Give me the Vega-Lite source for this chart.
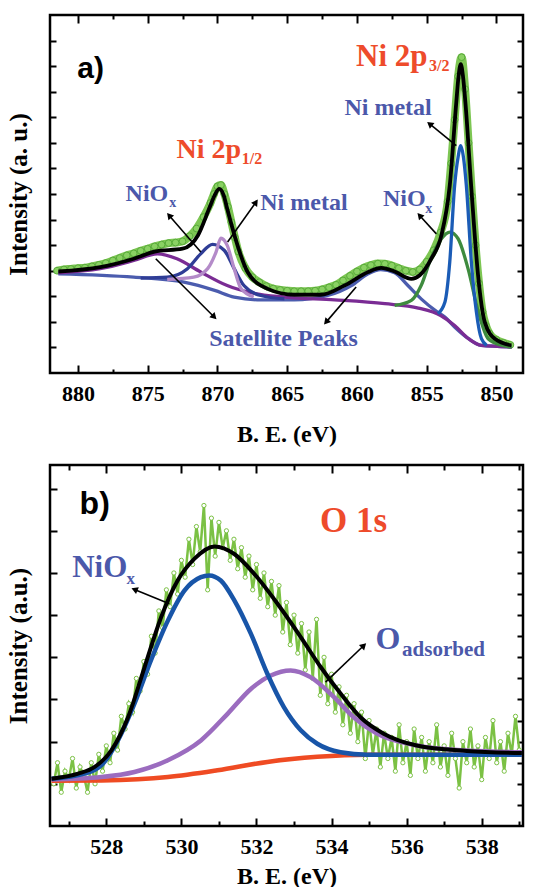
{
 "$schema": "https://vega.github.io/schema/vega-lite/v6.json",
 "padding": {"left": 4, "top": 12, "right": 0, "bottom": 0},
 "spacing": 14,
 "resolve": {"scale": {"color": "independent"}},
 "config": {
  "view": {"stroke": "black", "strokeWidth": 2.5},
  "axis": {"domain": false, "grid": false, "labelFont": "Liberation Serif", "labelFontWeight": "bold", "labelFontSize": 22, "labelColor": "black", "titleFont": "Liberation Serif", "titleFontWeight": "bold", "titleFontSize": 24, "titleColor": "black", "tickColor": "black", "tickWidth": 2}
 },
 "datasets": {
  "dataA": [
   {"E":881.5,"I":4.0},{"E":881.0,"I":4.05},{"E":880.5,"I":4.07},{"E":880.0,"I":4.1},{"E":879.5,"I":4.12},{"E":879.0,"I":4.17},{"E":878.5,"I":4.23},{"E":878.0,"I":4.3},{"E":877.5,"I":4.4},{"E":877.0,"I":4.5},{"E":876.5,"I":4.6},{"E":876.0,"I":4.68},{"E":875.5,"I":4.78},{"E":875.0,"I":4.86},{"E":874.5,"I":4.95},{"E":874.0,"I":5.02},{"E":873.5,"I":5.08},{"E":873.0,"I":5.1},{"E":872.5,"I":5.15},{"E":872.0,"I":5.35},{"E":871.5,"I":5.65},{"E":871.0,"I":6.1},{"E":870.5,"I":6.65},{"E":870.25,"I":7.0},{"E":870.0,"I":7.3},{"E":869.75,"I":7.35},{"E":869.5,"I":7.0},{"E":869.25,"I":6.5},{"E":869.0,"I":5.9},{"E":868.75,"I":5.3},{"E":868.5,"I":4.75},{"E":868.0,"I":4.1},{"E":867.5,"I":3.75},{"E":867.0,"I":3.55},{"E":866.5,"I":3.4},{"E":866.0,"I":3.3},{"E":865.5,"I":3.25},{"E":865.0,"I":3.22},{"E":864.5,"I":3.2},{"E":864.0,"I":3.2},{"E":863.5,"I":3.2},{"E":863.0,"I":3.22},{"E":862.5,"I":3.27},{"E":862.0,"I":3.35},{"E":861.5,"I":3.45},{"E":861.0,"I":3.62},{"E":860.5,"I":3.8},{"E":860.0,"I":3.97},{"E":859.5,"I":4.12},{"E":859.0,"I":4.22},{"E":858.5,"I":4.28},{"E":858.0,"I":4.27},{"E":857.5,"I":4.2},{"E":857.0,"I":4.1},{"E":856.5,"I":4.0},{"E":856.0,"I":3.95},{"E":855.5,"I":4.05},{"E":855.0,"I":4.35},{"E":854.5,"I":4.8},{"E":854.0,"I":5.5},{"E":853.5,"I":6.7},{"E":853.25,"I":8.2},{"E":853.0,"I":9.9},{"E":852.75,"I":11.6},{"E":852.5,"I":12.35},{"E":852.25,"I":11.1},{"E":852.0,"I":9.0},{"E":851.75,"I":6.9},{"E":851.5,"I":5.0},{"E":851.25,"I":3.5},{"E":851.0,"I":2.4},{"E":850.75,"I":1.85},{"E":850.5,"I":1.55},{"E":850.0,"I":1.3},{"E":849.5,"I":1.18},{"E":849.0,"I":1.1}
  ],
  "curvesA": [
   {"s":"sat32","E":881.4,"I":3.88},{"s":"sat32","E":876.0,"I":3.75},{"s":"sat32","E":872.4,"I":3.55},{"s":"sat32","E":870.2,"I":3.23},{"s":"sat32","E":868.8,"I":2.97},{"s":"sat32","E":866.9,"I":2.86},{"s":"sat32","E":864.5,"I":2.86},{"s":"sat32","E":862.1,"I":3.03},{"s":"sat32","E":860.4,"I":3.42},{"s":"sat32","E":859.2,"I":3.88},{"s":"sat32","E":858.3,"I":4.04},{"s":"sat32","E":857.3,"I":3.92},{"s":"sat32","E":856.35,"I":3.42},{"s":"sat32","E":855.4,"I":2.9},{"s":"sat32","E":854.4,"I":2.45},{"s":"sat32","E":853.7,"I":2.19},{"s":"sat32","E":853.0,"I":1.8},{"s":"sat32","E":852.0,"I":1.34},{"s":"sat32","E":851.1,"I":1.08},{"s":"sat32","E":848.9,"I":1.02},
   {"s":"sat12","E":881.4,"I":3.92},{"s":"sat12","E":878.4,"I":4.08},{"s":"sat12","E":876.0,"I":4.4},{"s":"sat12","E":874.3,"I":4.66},{"s":"sat12","E":872.9,"I":4.47},{"s":"sat12","E":871.2,"I":3.95},{"s":"sat12","E":869.3,"I":3.42},{"s":"sat12","E":867.6,"I":3.14},{"s":"sat12","E":865.2,"I":2.97},{"s":"sat12","E":861.6,"I":2.86},{"s":"sat12","E":858.0,"I":2.71},{"s":"sat12","E":855.6,"I":2.54},{"s":"sat12","E":854.0,"I":2.25},{"s":"sat12","E":853.0,"I":1.86},{"s":"sat12","E":852.0,"I":1.34},{"s":"sat12","E":851.1,"I":1.08},{"s":"sat12","E":848.9,"I":1.02},
   {"s":"nio12","E":875.5,"I":3.71},{"s":"nio12","E":873.6,"I":3.75},{"s":"nio12","E":872.15,"I":4.08},{"s":"nio12","E":871.2,"I":4.66},{"s":"nio12","E":870.35,"I":5.03},{"s":"nio12","E":869.5,"I":4.79},{"s":"nio12","E":868.8,"I":4.08},{"s":"nio12","E":868.1,"I":3.42},{"s":"nio12","E":866.9,"I":3.03},{"s":"nio12","E":865.2,"I":2.9},
   {"s":"ni12","E":873.6,"I":3.66},{"s":"ni12","E":871.7,"I":3.75},{"s":"ni12","E":870.7,"I":4.08},{"s":"ni12","E":870.1,"I":4.73},{"s":"ni12","E":869.75,"I":5.27},{"s":"ni12","E":869.3,"I":4.99},{"s":"ni12","E":868.8,"I":4.08},{"s":"ni12","E":868.3,"I":3.29},{"s":"ni12","E":867.4,"I":2.97},
   {"s":"nio32","E":857.3,"I":2.64},{"s":"nio32","E":856.1,"I":2.84},{"s":"nio32","E":855.4,"I":3.42},{"s":"nio32","E":854.7,"I":4.47},{"s":"nio32","E":853.95,"I":5.25},{"s":"nio32","E":853.35,"I":5.51},{"s":"nio32","E":852.75,"I":5.25},{"s":"nio32","E":852.04,"I":4.08},{"s":"nio32","E":851.3,"I":2.38},{"s":"nio32","E":850.6,"I":1.34},{"s":"nio32","E":849.6,"I":1.08},{"s":"nio32","E":848.9,"I":1.02},
   {"s":"ni32","E":854.2,"I":2.32},{"s":"ni32","E":853.7,"I":2.77},{"s":"ni32","E":853.35,"I":4.34},{"s":"ni32","E":853.0,"I":7.33},{"s":"ni32","E":852.75,"I":8.45},{"s":"ni32","E":852.56,"I":8.89},{"s":"ni32","E":852.37,"I":8.45},{"s":"ni32","E":852.16,"I":7.33},{"s":"ni32","E":851.8,"I":4.34},{"s":"ni32","E":851.44,"I":2.38},{"s":"ni32","E":851.08,"I":1.34},{"s":"ni32","E":850.7,"I":1.08},
   {"s":"env","E":881.4,"I":3.97},{"s":"env","E":878.4,"I":4.14},{"s":"env","E":876.0,"I":4.47},{"s":"env","E":874.5,"I":4.75},{"s":"env","E":872.5,"I":4.86},{"s":"env","E":871.4,"I":5.38},{"s":"env","E":870.6,"I":6.42},{"s":"env","E":870.2,"I":6.95},{"s":"env","E":869.87,"I":7.2},{"s":"env","E":869.55,"I":6.95},{"s":"env","E":869.3,"I":6.42},{"s":"env","E":868.56,"I":4.99},{"s":"env","E":867.84,"I":3.95},{"s":"env","E":866.4,"I":3.29},{"s":"env","E":864.5,"I":3.06},{"s":"env","E":862.6,"I":3.06},{"s":"env","E":860.9,"I":3.42},{"s":"env","E":859.2,"I":3.95},{"s":"env","E":858.26,"I":4.11},{"s":"env","E":857.3,"I":3.97},{"s":"env","E":856.1,"I":3.68},{"s":"env","E":855.5,"I":3.82},{"s":"env","E":854.67,"I":4.47},{"s":"env","E":853.95,"I":5.38},{"s":"env","E":853.35,"I":7.33},{"s":"env","E":852.88,"I":10.59},{"s":"env","E":852.72,"I":11.6},{"s":"env","E":852.56,"I":12.08},{"s":"env","E":852.4,"I":11.6},{"s":"env","E":852.23,"I":10.59},{"s":"env","E":851.8,"I":7.2},{"s":"env","E":851.32,"I":3.82},{"s":"env","E":850.84,"I":1.99},{"s":"env","E":850.12,"I":1.34},{"s":"env","E":848.93,"I":1.08}
  ],
  "arrowsA": [
   {"id":1,"E":871.19,"I":4.73,"E2":873.46,"I2":6.16},
   {"id":2,"E":869.27,"I":5.12,"E2":867.24,"I2":6.68},
   {"id":3,"E":874.42,"I":4.47,"E2":870.23,"I2":2.19},
   {"id":4,"E":860.06,"I":3.36,"E2":862.21,"I2":1.99},
   {"id":5,"E":852.88,"I":8.89,"E2":854.79,"I2":9.74},
   {"id":6,"E":854.31,"I":5.44,"E2":855.51,"I2":6.16}
  ],
  "textA": [
   {"role":"peakR","t":"Ni 2p","E":860.06,"I":11.99},
   {"role":"peakL","t":"Ni 2p","E":872.94,"I":8.4},
   {"role":"peaksub","t":"3/2","E":854.84,"I":11.8},
   {"role":"peaksub","t":"1/2","E":868.25,"I":8.16},
   {"role":"comp","t":"Ni metal","E":860.9,"I":10.07},
   {"role":"comp","t":"NiO","E":858.14,"I":6.52},
   {"role":"comp","t":"Ni metal","E":866.93,"I":6.39},
   {"role":"comp","t":"NiO","E":876.58,"I":6.73},
   {"role":"comp","t":"Satellite Peaks","E":870.59,"I":1.05},
   {"role":"compsub","t":"x","E":855.1,"I":6.24},
   {"role":"compsub","t":"x","E":873.46,"I":6.48},
   {"role":"panel","t":"a)","E":879.09,"I":11.89}
  ],
  "dataB": [
   {"E":526.6,"I":1.0},{"E":526.7,"I":1.5},{"E":526.8,"I":0.8},{"E":526.9,"I":1.3},{"E":527.0,"I":1.1},{"E":527.1,"I":1.6},{"E":527.2,"I":0.9},{"E":527.3,"I":1.4},{"E":527.4,"I":1.2},{"E":527.5,"I":0.8},{"E":527.6,"I":1.5},{"E":527.7,"I":1.0},{"E":527.8,"I":1.7},{"E":527.9,"I":1.3},{"E":528.0,"I":1.9},{"E":528.1,"I":1.5},{"E":528.2,"I":2.2},{"E":528.3,"I":1.8},{"E":528.4,"I":2.6},{"E":528.5,"I":2.3},{"E":528.6,"I":2.9},{"E":528.7,"I":2.7},{"E":528.8,"I":3.5},{"E":528.9,"I":3.2},{"E":529.0,"I":3.9},{"E":529.1,"I":3.6},{"E":529.2,"I":4.5},{"E":529.3,"I":4.1},{"E":529.4,"I":5.1},{"E":529.5,"I":4.7},{"E":529.6,"I":5.6},{"E":529.7,"I":5.2},{"E":529.8,"I":6.0},{"E":529.9,"I":5.5},{"E":530.0,"I":6.3},{"E":530.1,"I":5.9},{"E":530.2,"I":6.8},{"E":530.3,"I":6.2},{"E":530.4,"I":7.1},{"E":530.5,"I":6.5},{"E":530.6,"I":7.6},{"E":530.7,"I":5.6},{"E":530.8,"I":7.3},{"E":530.9,"I":6.4},{"E":531.0,"I":7.2},{"E":531.1,"I":6.6},{"E":531.2,"I":7.0},{"E":531.3,"I":6.3},{"E":531.4,"I":6.8},{"E":531.5,"I":6.1},{"E":531.6,"I":6.6},{"E":531.7,"I":5.9},{"E":531.8,"I":6.4},{"E":531.9,"I":5.6},{"E":532.0,"I":6.2},{"E":532.1,"I":5.4},{"E":532.2,"I":6.0},{"E":532.3,"I":5.2},{"E":532.4,"I":5.8},{"E":532.5,"I":5.0},{"E":532.6,"I":5.7},{"E":532.7,"I":4.6},{"E":532.8,"I":5.3},{"E":532.9,"I":4.3},{"E":533.0,"I":5.0},{"E":533.1,"I":4.1},{"E":533.2,"I":4.8},{"E":533.3,"I":3.7},{"E":533.4,"I":4.6},{"E":533.5,"I":3.5},{"E":533.6,"I":4.9},{"E":533.7,"I":3.1},{"E":533.8,"I":4.0},{"E":533.9,"I":2.9},{"E":534.0,"I":3.6},{"E":534.1,"I":2.7},{"E":534.2,"I":3.3},{"E":534.3,"I":2.4},{"E":534.4,"I":3.1},{"E":534.5,"I":2.2},{"E":534.6,"I":2.9},{"E":534.7,"I":2.0},{"E":534.8,"I":2.7},{"E":534.9,"I":1.6},{"E":535.0,"I":2.5},{"E":535.1,"I":1.7},{"E":535.2,"I":2.3},{"E":535.3,"I":1.4},{"E":535.4,"I":2.2},{"E":535.5,"I":1.6},{"E":535.6,"I":2.1},{"E":535.7,"I":1.3},{"E":535.8,"I":2.4},{"E":535.9,"I":1.5},{"E":536.0,"I":2.0},{"E":536.1,"I":1.2},{"E":536.2,"I":2.3},{"E":536.3,"I":1.6},{"E":536.4,"I":2.1},{"E":536.5,"I":1.3},{"E":536.6,"I":2.0},{"E":536.7,"I":1.5},{"E":536.8,"I":2.4},{"E":536.9,"I":1.4},{"E":537.0,"I":1.9},{"E":537.1,"I":1.2},{"E":537.2,"I":2.2},{"E":537.3,"I":1.6},{"E":537.4,"I":0.9},{"E":537.5,"I":2.0},{"E":537.6,"I":1.5},{"E":537.7,"I":2.3},{"E":537.8,"I":1.4},{"E":537.9,"I":1.9},{"E":538.0,"I":1.1},{"E":538.1,"I":2.1},{"E":538.2,"I":1.6},{"E":538.3,"I":2.5},{"E":538.4,"I":1.5},{"E":538.5,"I":2.0},{"E":538.6,"I":1.3},{"E":538.7,"I":2.2},{"E":538.8,"I":1.7},{"E":538.9,"I":2.6},{"E":539.0,"I":1.8}
  ],
  "curvesB": [
   {"s":"bg","E":526.54,"I":1.07},{"s":"bg","E":527.87,"I":1.08},{"s":"bg","E":529.64,"I":1.16},{"s":"bg","E":530.96,"I":1.32},{"s":"bg","E":532.29,"I":1.52},{"s":"bg","E":533.62,"I":1.64},{"s":"bg","E":534.95,"I":1.69},{"s":"bg","E":539.07,"I":1.69},
   {"s":"oads","E":526.54,"I":1.1},{"s":"oads","E":527.87,"I":1.16},{"s":"oads","E":528.75,"I":1.28},{"s":"oads","E":529.64,"I":1.56},{"s":"oads","E":530.52,"I":2.03},{"s":"oads","E":531.23,"I":2.66},{"s":"oads","E":531.85,"I":3.25},{"s":"oads","E":532.38,"I":3.57},{"s":"oads","E":532.91,"I":3.69},{"s":"oads","E":533.44,"I":3.53},{"s":"oads","E":534.06,"I":3.06},{"s":"oads","E":534.59,"I":2.58},{"s":"oads","E":535.21,"I":2.19},{"s":"oads","E":536.27,"I":1.91},{"s":"oads","E":537.6,"I":1.79},{"s":"oads","E":539.07,"I":1.75},
   {"s":"niox","E":526.54,"I":1.12},{"s":"niox","E":527.42,"I":1.24},{"s":"niox","E":527.87,"I":1.44},{"s":"niox","E":528.31,"I":2.03},{"s":"niox","E":528.75,"I":2.9},{"s":"niox","E":529.19,"I":3.93},{"s":"niox","E":529.64,"I":4.87},{"s":"niox","E":530.08,"I":5.58},{"s":"niox","E":530.52,"I":5.9},{"s":"niox","E":530.74,"I":5.94},{"s":"niox","E":531.05,"I":5.82},{"s":"niox","E":531.41,"I":5.35},{"s":"niox","E":531.85,"I":4.56},{"s":"niox","E":532.29,"I":3.61},{"s":"niox","E":532.73,"I":2.82},{"s":"niox","E":533.18,"I":2.27},{"s":"niox","E":533.62,"I":1.95},{"s":"niox","E":534.24,"I":1.75},{"s":"niox","E":534.95,"I":1.69},{"s":"niox","E":539.07,"I":1.69},
   {"s":"env","E":526.54,"I":1.12},{"s":"env","E":527.25,"I":1.24},{"s":"env","E":527.69,"I":1.4},{"s":"env","E":528.13,"I":1.79},{"s":"env","E":528.58,"I":2.58},{"s":"env","E":529.02,"I":3.77},{"s":"env","E":529.46,"I":4.95},{"s":"env","E":529.9,"I":5.82},{"s":"env","E":530.35,"I":6.34},{"s":"env","E":530.88,"I":6.63},{"s":"env","E":531.41,"I":6.45},{"s":"env","E":531.94,"I":5.98},{"s":"env","E":532.56,"I":5.27},{"s":"env","E":533.18,"I":4.48},{"s":"env","E":533.71,"I":3.77},{"s":"env","E":534.24,"I":3.14},{"s":"env","E":534.77,"I":2.58},{"s":"env","E":535.39,"I":2.19},{"s":"env","E":536.27,"I":1.91},{"s":"env","E":537.6,"I":1.78},{"s":"env","E":539.07,"I":1.73}
  ],
  "arrowsB": [
   {"id":7,"E":529.68,"I":5.27,"E2":528.75,"I2":5.61},
   {"id":8,"E":533.84,"I":3.41,"E2":534.86,"I2":4.28}
  ],
  "textB": [
   {"role":"peak","t":"O 1s","E":533.69,"I":6.97},
   {"role":"nio","t":"NiO","E":527.09,"I":5.9},
   {"role":"niosub","t":"x","E":528.54,"I":5.73},
   {"role":"o","t":"O","E":535.17,"I":4.2},
   {"role":"osub","t":"adsorbed","E":535.88,"I":4.04},
   {"role":"panel","t":"b)","E":527.69,"I":7.64}
  ]
 },
 "vconcat": [
  {
   "width": 473, "height": 358,
   "resolve": {"axis": {"x": "independent", "y": "independent"}},
   "encoding": {
    "x": {"field": "E", "type": "quantitative", "scale": {"domain": [848.1, 882], "reverse": true, "nice": false, "zero": false}, "axis": null},
    "y": {"field": "I", "type": "quantitative", "scale": {"domain": [0, 14], "nice": false, "zero": false}, "axis": null}
   },
   "layer": [
    {"data": {"name": "dataA"}, "mark": {"type": "line", "color": "#7dc653", "strokeWidth": 8, "interpolate": "monotone"},
     "encoding": {
      "order": {"field": "E", "sort": "descending"},
      "x": {"field": "E", "type": "quantitative", "scale": {"domain": [848.1, 882], "reverse": true, "nice": false, "zero": false},
       "axis": {"orient": "bottom", "values": [850, 852.5, 855, 857.5, 860, 862.5, 865, 867.5, 870, 872.5, 875, 877.5, 880], "labelExpr": "datum.value % 5 === 0 ? datum.label : ''", "tickSize": {"condition": {"test": "datum.value % 5 === 0", "value": -8}, "value": -4}, "labelPadding": 18, "labelOverlap": false, "labelFlush": false, "title": "B. E. (eV)", "titlePadding": 14}},
      "y": {"field": "I", "type": "quantitative", "scale": {"domain": [0, 14], "nice": false, "zero": false},
       "axis": {"orient": "left", "values": [1,2,3,4,5,6,7,8,9,10,11,12,13], "labels": false, "tickSize": -6, "title": "Intensity (a. u.)", "titleFontSize": 25, "titlePadding": 18}}
     }},
    {"data": {"name": "dataA"}, "mark": {"type": "point", "filled": true, "fill": "#8ad163", "stroke": "#58aa3a", "strokeWidth": 1, "size": 45, "opacity": 1},
     "encoding": {
      "x": {"field": "E", "type": "quantitative", "scale": {"domain": [848.1, 882], "reverse": true, "nice": false, "zero": false},
       "axis": {"orient": "top", "values": [850, 852.5, 855, 857.5, 860, 862.5, 865, 867.5, 870, 872.5, 875, 877.5, 880], "labels": false, "tickSize": {"condition": {"test": "datum.value % 5 === 0", "value": -8}, "value": -4}, "title": null}},
      "y": {"field": "I", "type": "quantitative", "scale": {"domain": [0, 14], "nice": false, "zero": false},
       "axis": {"orient": "right", "values": [1,2,3,4,5,6,7,8,9,10,11,12,13], "labels": false, "tickSize": -6, "title": null}}
     }},
    {"data": {"name": "curvesA"}, "transform": [{"filter": "datum.s !== 'env'"}],
     "mark": {"type": "line", "strokeWidth": 3.3, "interpolate": "monotone"},
     "encoding": {
      "order": {"field": "E", "sort": "descending"},
      "color": {"field": "s", "type": "nominal", "legend": null, "scale": {"domain": ["sat32", "sat12", "nio12", "ni12", "nio32", "ni32"], "range": ["#4b5cae", "#7a2c94", "#2f3d96", "#b48bc9", "#3e8b3e", "#1b5cb6"]}}
     }},
    {"data": {"name": "curvesA"}, "transform": [{"filter": "datum.s === 'env'"}],
     "mark": {"type": "line", "strokeWidth": 3.8, "color": "black", "interpolate": "monotone"},
     "encoding": {"order": {"field": "E", "sort": "descending"}}},
    {"data": {"name": "arrowsA"}, "mark": {"type": "rule", "color": "black", "strokeWidth": 1.6},
     "encoding": {"x2": {"field": "E2"}, "y2": {"field": "I2"}}},
    {"data": {"name": "arrowsA"}, "transform": [{"filter": "datum.id === 1"}], "mark": {"type": "point", "shape": "triangle-up", "angle": 319, "filled": true, "color": "black", "size": 55, "opacity": 1},
     "encoding": {"x": {"field": "E2", "type": "quantitative", "axis": null}, "y": {"field": "I2", "type": "quantitative", "axis": null}}},
    {"data": {"name": "arrowsA"}, "transform": [{"filter": "datum.id === 2"}], "mark": {"type": "point", "shape": "triangle-up", "angle": 35, "filled": true, "color": "black", "size": 55, "opacity": 1},
     "encoding": {"x": {"field": "E2", "type": "quantitative", "axis": null}, "y": {"field": "I2", "type": "quantitative", "axis": null}}},
    {"data": {"name": "arrowsA"}, "transform": [{"filter": "datum.id === 3"}], "mark": {"type": "point", "shape": "triangle-up", "angle": 135, "filled": true, "color": "black", "size": 55, "opacity": 1},
     "encoding": {"x": {"field": "E2", "type": "quantitative", "axis": null}, "y": {"field": "I2", "type": "quantitative", "axis": null}}},
    {"data": {"name": "arrowsA"}, "transform": [{"filter": "datum.id === 4"}], "mark": {"type": "point", "shape": "triangle-up", "angle": 221, "filled": true, "color": "black", "size": 55, "opacity": 1},
     "encoding": {"x": {"field": "E2", "type": "quantitative", "axis": null}, "y": {"field": "I2", "type": "quantitative", "axis": null}}},
    {"data": {"name": "arrowsA"}, "transform": [{"filter": "datum.id === 5"}], "mark": {"type": "point", "shape": "triangle-up", "angle": 309, "filled": true, "color": "black", "size": 55, "opacity": 1},
     "encoding": {"x": {"field": "E2", "type": "quantitative", "axis": null}, "y": {"field": "I2", "type": "quantitative", "axis": null}}},
    {"data": {"name": "arrowsA"}, "transform": [{"filter": "datum.id === 6"}], "mark": {"type": "point", "shape": "triangle-up", "angle": 318, "filled": true, "color": "black", "size": 55, "opacity": 1},
     "encoding": {"x": {"field": "E2", "type": "quantitative", "axis": null}, "y": {"field": "I2", "type": "quantitative", "axis": null}}},
    {"data": {"name": "textA"}, "transform": [{"filter": "datum.role === 'peakR'"}], "mark": {"type": "text", "align": "left", "baseline": "alphabetic", "font": "Liberation Serif", "fontWeight": "bold", "fontSize": 31, "color": "#ee4b2b"}, "encoding": {"text": {"field": "t"}}},
    {"data": {"name": "textA"}, "transform": [{"filter": "datum.role === 'peakL'"}], "mark": {"type": "text", "align": "left", "baseline": "alphabetic", "font": "Liberation Serif", "fontWeight": "bold", "fontSize": 28, "color": "#ee4b2b"}, "encoding": {"text": {"field": "t"}}},
    {"data": {"name": "textA"}, "transform": [{"filter": "datum.role === 'peaksub'"}], "mark": {"type": "text", "align": "left", "baseline": "alphabetic", "font": "Liberation Serif", "fontWeight": "bold", "fontSize": 16, "color": "#ee4b2b"}, "encoding": {"text": {"field": "t"}}},
    {"data": {"name": "textA"}, "transform": [{"filter": "datum.role === 'comp'"}], "mark": {"type": "text", "align": "left", "baseline": "alphabetic", "font": "Liberation Serif", "fontWeight": "bold", "fontSize": 24, "color": "#4b58aa"}, "encoding": {"text": {"field": "t"}}},
    {"data": {"name": "textA"}, "transform": [{"filter": "datum.role === 'compsub'"}], "mark": {"type": "text", "align": "left", "baseline": "alphabetic", "font": "Liberation Serif", "fontWeight": "bold", "fontSize": 14, "color": "#4b58aa"}, "encoding": {"text": {"field": "t"}}},
    {"data": {"name": "textA"}, "transform": [{"filter": "datum.role === 'panel'"}], "mark": {"type": "text", "align": "center", "baseline": "middle", "font": "Liberation Sans", "fontWeight": "bold", "fontSize": 30, "color": "black"}, "encoding": {"text": {"field": "t"}}}
   ]
  },
  {
   "width": 473, "height": 361,
   "resolve": {"axis": {"x": "independent", "y": "independent"}},
   "encoding": {
    "x": {"field": "E", "type": "quantitative", "scale": {"domain": [526.5, 539.1], "nice": false, "zero": false}, "axis": null},
    "y": {"field": "I", "type": "quantitative", "scale": {"domain": [0, 8.56], "nice": false, "zero": false}, "axis": null}
   },
   "layer": [
    {"data": {"name": "dataB"}, "mark": {"type": "line", "color": "#7bc144", "strokeWidth": 2.5},
     "encoding": {
      "x": {"field": "E", "type": "quantitative", "scale": {"domain": [526.5, 539.1], "nice": false, "zero": false},
       "axis": {"orient": "bottom", "values": [527,528,529,530,531,532,533,534,535,536,537,538,539], "labelExpr": "datum.value % 2 === 0 ? datum.label : ''", "tickSize": {"condition": {"test": "datum.value % 2 === 0", "value": -8}, "value": -5}, "labelPadding": 18, "labelOverlap": false, "labelFlush": false, "title": "B. E. (eV)", "titlePadding": 4}},
      "y": {"field": "I", "type": "quantitative", "scale": {"domain": [0, 8.56], "nice": false, "zero": false},
       "axis": {"orient": "left", "values": [1,2,3,4,5,6,7,8], "labels": false, "tickSize": -7, "title": "Intensity (a.u.)", "titleFontSize": 25, "titlePadding": 18}}
     }},
    {"data": {"name": "dataB"}, "mark": {"type": "point", "filled": true, "fill": "white", "stroke": "#7bc144", "strokeWidth": 1, "size": 18, "opacity": 1},
     "encoding": {
      "x": {"field": "E", "type": "quantitative", "scale": {"domain": [526.5, 539.1], "nice": false, "zero": false},
       "axis": {"orient": "top", "values": [527,528,529,530,531,532,533,534,535,536,537,538,539], "labels": false, "tickSize": {"condition": {"test": "datum.value % 2 === 0", "value": -8}, "value": -5}, "title": null}},
      "y": {"field": "I", "type": "quantitative", "scale": {"domain": [0, 8.56], "nice": false, "zero": false},
       "axis": {"orient": "right", "values": [0.5,1,1.5,2,2.5,3,3.5,4,4.5,5,5.5,6,6.5,7,7.5,8], "labels": false, "tickSize": -6, "title": null}}
     }},
    {"data": {"name": "curvesB"}, "transform": [{"filter": "datum.s !== 'env'"}],
     "mark": {"type": "line", "strokeWidth": 4.5, "interpolate": "monotone"},
     "encoding": {
      "color": {"field": "s", "type": "nominal", "legend": null, "scale": {"domain": ["bg", "oads", "niox"], "range": ["#ef4b23", "#9b6cbf", "#1855a8"]}}
     }},
    {"data": {"name": "curvesB"}, "transform": [{"filter": "datum.s === 'env'"}],
     "mark": {"type": "line", "strokeWidth": 4, "color": "black", "interpolate": "monotone"}},
    {"data": {"name": "arrowsB"}, "mark": {"type": "rule", "color": "black", "strokeWidth": 1.6},
     "encoding": {"x2": {"field": "E2"}, "y2": {"field": "I2"}}},
    {"data": {"name": "arrowsB"}, "transform": [{"filter": "datum.id === 7"}], "mark": {"type": "point", "shape": "triangle-up", "angle": 292, "filled": true, "color": "black", "size": 55, "opacity": 1},
     "encoding": {"x": {"field": "E2", "type": "quantitative", "axis": null}, "y": {"field": "I2", "type": "quantitative", "axis": null}}},
    {"data": {"name": "arrowsB"}, "transform": [{"filter": "datum.id === 8"}], "mark": {"type": "point", "shape": "triangle-up", "angle": 46, "filled": true, "color": "black", "size": 55, "opacity": 1},
     "encoding": {"x": {"field": "E2", "type": "quantitative", "axis": null}, "y": {"field": "I2", "type": "quantitative", "axis": null}}},
    {"data": {"name": "textB"}, "transform": [{"filter": "datum.role === 'peak'"}], "mark": {"type": "text", "align": "left", "baseline": "alphabetic", "font": "Liberation Serif", "fontWeight": "bold", "fontSize": 35, "color": "#ee4b2b"}, "encoding": {"text": {"field": "t"}}},
    {"data": {"name": "textB"}, "transform": [{"filter": "datum.role === 'nio'"}], "mark": {"type": "text", "align": "left", "baseline": "alphabetic", "font": "Liberation Serif", "fontWeight": "bold", "fontSize": 31, "color": "#4b58aa"}, "encoding": {"text": {"field": "t"}}},
    {"data": {"name": "textB"}, "transform": [{"filter": "datum.role === 'niosub'"}], "mark": {"type": "text", "align": "left", "baseline": "alphabetic", "font": "Liberation Serif", "fontWeight": "bold", "fontSize": 17, "color": "#4b58aa"}, "encoding": {"text": {"field": "t"}}},
    {"data": {"name": "textB"}, "transform": [{"filter": "datum.role === 'o'"}], "mark": {"type": "text", "align": "left", "baseline": "alphabetic", "font": "Liberation Serif", "fontWeight": "bold", "fontSize": 32, "color": "#4b58aa"}, "encoding": {"text": {"field": "t"}}},
    {"data": {"name": "textB"}, "transform": [{"filter": "datum.role === 'osub'"}], "mark": {"type": "text", "align": "left", "baseline": "alphabetic", "font": "Liberation Serif", "fontWeight": "bold", "fontSize": 21, "color": "#4b58aa"}, "encoding": {"text": {"field": "t"}}},
    {"data": {"name": "textB"}, "transform": [{"filter": "datum.role === 'panel'"}], "mark": {"type": "text", "align": "center", "baseline": "middle", "font": "Liberation Sans", "fontWeight": "bold", "fontSize": 32, "color": "black"}, "encoding": {"text": {"field": "t"}}}
   ]
  }
 ]
}
